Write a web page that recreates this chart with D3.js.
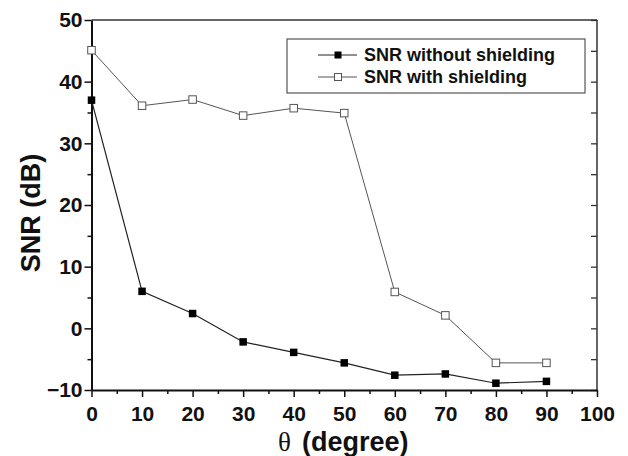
<!DOCTYPE html>
<html>
<head>
<meta charset="utf-8">
<script src="https://cdn.jsdelivr.net/npm/d3@7"></script>
<style>
  body { margin: 0; background: #fff; }
  svg { display: block; }
  text { font-family: "Liberation Sans", Arial, sans-serif; }
</style>
</head>
<body>
<svg id="chart" width="628" height="456"></svg>
<script>
const angles = [0, 10, 20, 30, 40, 50, 60, 70, 80, 90];
const snrWithout = [37.0, 6.0, 2.4, -2.2, -3.9, -5.6, -7.6, -7.4, -8.9, -8.6];
const snrWith = [45.1, 36.1, 37.1, 34.5, 35.7, 34.9, 5.9, 2.1, -5.6, -5.6];
const xTicks = [0, 10, 20, 30, 40, 50, 60, 70, 80, 90, 100];
const yTicks = [-10, 0, 10, 20, 30, 40, 50];
const seriesNames = ['SNR without shielding', 'SNR with shielding'];

const svg = d3.select('#chart');
const plot = { left: 91.5, right: 597, top: 20, bottom: 390 };

const x = d3.scaleLinear().domain([0, 100]).range([plot.left, plot.right]);
const y = d3.scaleLinear().domain([-10, 50]).range([plot.bottom, plot.top]);

const minorX = d3.range(5, 100, 10);
const minorY = d3.range(-5, 50, 10);

// frame: top and right
svg.append('line')
    .attr('x1', plot.left).attr('x2', plot.right).attr('y1', plot.top).attr('y2', plot.top)
    .attr('stroke', '#333').attr('stroke-width', 1.5);
svg.append('line')
    .attr('x1', plot.right).attr('x2', plot.right).attr('y1', plot.top).attr('y2', plot.bottom)
    .attr('stroke', '#333').attr('stroke-width', 1.5);

// right axis ticks (inward)
const rightAxis = svg.append('g').attr('transform', `translate(${plot.right},0)`);
rightAxis.call(d3.axisRight(y).tickValues(yTicks.concat(minorY)).tickSize(-6).tickFormat(''));
rightAxis.select('.domain').remove();
rightAxis.selectAll('line').attr('stroke', '#333').attr('stroke-width', 1.3);

// bottom axis
const gx = svg.append('g').attr('transform', `translate(0,${plot.bottom})`);
gx.call(d3.axisBottom(x).tickValues(xTicks).tickSize(7).tickPadding(9).tickSizeOuter(0));
gx.select('.domain').attr('stroke', '#111').attr('stroke-width', 2);
gx.selectAll('.tick line').attr('stroke', '#111').attr('stroke-width', 1.5);
gx.selectAll('text').attr('font-size', 21).attr('font-weight', 'bold').attr('fill', '#111');
const gxm = svg.append('g').attr('transform', `translate(0,${plot.bottom})`);
gxm.call(d3.axisBottom(x).tickValues(minorX).tickSize(4).tickFormat(''));
gxm.select('.domain').remove();
gxm.selectAll('line').attr('stroke', '#111').attr('stroke-width', 1.5);

// left axis
const gy = svg.append('g').attr('transform', `translate(${plot.left},0)`);
gy.call(d3.axisLeft(y).tickValues(yTicks).tickSize(7).tickPadding(2).tickSizeOuter(0));
gy.select('.domain').attr('stroke', '#111').attr('stroke-width', 2);
gy.selectAll('.tick line').attr('stroke', '#111').attr('stroke-width', 1.5);
gy.selectAll('text').attr('font-size', 21).attr('font-weight', 'bold').attr('fill', '#111');
const gym = svg.append('g').attr('transform', `translate(${plot.left},0)`);
gym.call(d3.axisLeft(y).tickValues(minorY).tickSize(4).tickFormat(''));
gym.select('.domain').remove();
gym.selectAll('line').attr('stroke', '#111').attr('stroke-width', 1.5);

// axis titles
svg.append('text')
    .attr('transform', 'translate(40,213) rotate(-90)')
    .attr('text-anchor', 'middle')
    .attr('font-size', 27).attr('font-weight', 'bold').attr('fill', '#111')
    .text('SNR (dB)');

const xt = svg.append('text')
    .attr('x', (plot.left + plot.right) / 2 - 1).attr('y', 451)
    .attr('text-anchor', 'middle')
    .attr('font-size', 27).attr('fill', '#111');
xt.append('tspan').attr('font-family', '"Liberation Serif", serif').text('θ');
xt.append('tspan').attr('font-weight', 'bold').attr('dx', 11).text('(degree)');

// series
const line = d3.line().x(d => x(d[0])).y(d => y(d[1]));
const dataWithout = angles.map((a, i) => [a, snrWithout[i]]);
const dataWith = angles.map((a, i) => [a, snrWith[i]]);
const ms = 7.5;

svg.append('path').datum(dataWith).attr('d', line)
    .attr('fill', 'none').attr('stroke', '#555').attr('stroke-width', 1);
svg.append('path').datum(dataWithout).attr('d', line)
    .attr('fill', 'none').attr('stroke', '#222').attr('stroke-width', 1.2);

svg.append('g').selectAll('rect').data(dataWith).join('rect')
    .attr('x', d => x(d[0]) - ms / 2).attr('y', d => y(d[1]) - ms / 2)
    .attr('width', ms).attr('height', ms)
    .attr('fill', '#fff').attr('stroke', '#555').attr('stroke-width', 1);
svg.append('g').selectAll('rect').data(dataWithout).join('rect')
    .attr('x', d => x(d[0]) - ms / 2).attr('y', d => y(d[1]) - ms / 2)
    .attr('width', ms).attr('height', ms)
    .attr('fill', '#000');

// legend
const lg = svg.append('g');
lg.append('rect')
    .attr('x', 287).attr('y', 39).attr('width', 298).attr('height', 54)
    .attr('fill', '#fff').attr('stroke', '#555').attr('stroke-width', 1.2);
seriesNames.forEach((name, i) => {
    const ly = 55 + i * 22;
    const filled = i === 0;
    lg.append('line').attr('x1', 318).attr('x2', 357).attr('y1', ly).attr('y2', ly)
        .attr('stroke', filled ? '#222' : '#555').attr('stroke-width', 1);
    lg.append('rect').attr('x', 338 - 3.5).attr('y', ly - 3.5).attr('width', 7).attr('height', 7)
        .attr('fill', filled ? '#000' : '#fff').attr('stroke', filled ? 'none' : '#555');
    lg.append('text').attr('x', 364).attr('y', ly + 6)
        .attr('font-size', 18).attr('font-weight', 'bold').attr('fill', '#111')
        .text(name);
});
</script>
</body>
</html>
